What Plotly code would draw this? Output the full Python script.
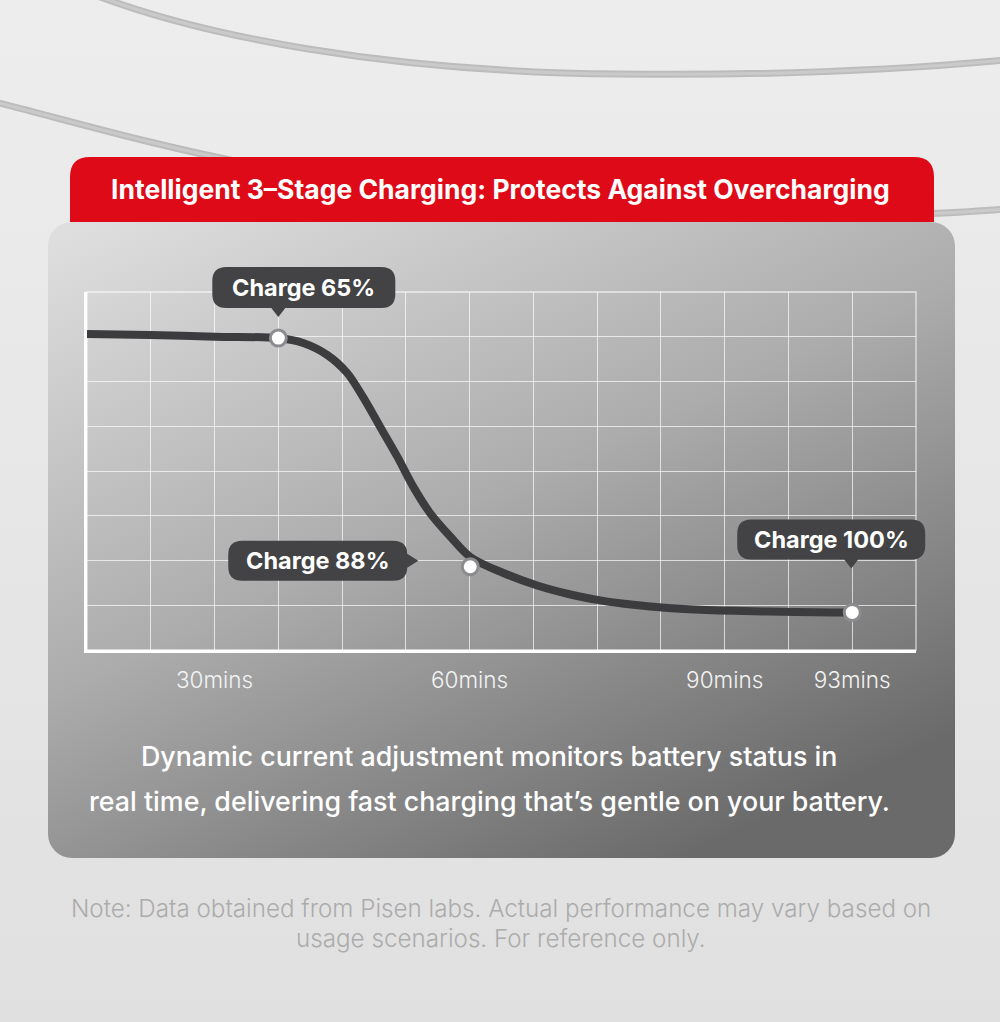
import base64
import plotly.graph_objects as go

W, H = 1000, 1022

# charge curve (13 columns x 8 rows)
curve_x = [0, 0.99, 2.01, 3.0, 3.39, 3.77, 4.08, 4.33, 4.6, 4.87, 5.12, 5.38,
           5.7, 6.01, 6.53, 7.06, 7.58, 8.05, 8.57, 9.11, 9.62, 10.68, 11.71, 12.0]
curve_y = [7.06, 7.04, 7.0, 6.97, 6.86, 6.59, 6.19, 5.65, 4.98, 4.31, 3.64, 3.06,
           2.53, 2.08, 1.72, 1.44, 1.24, 1.11, 1.01, 0.94, 0.9, 0.86, 0.84, 0.84]

# the three marked stages
point_x = [3.0, 6.01, 12.0]
point_y = [6.97, 1.86, 0.84]
point_labels = ["Charge 65%", "Charge 88%", "Charge 100%"]

# time axis
tick_pos = [2, 6, 10, 12]
tick_text = ["30mins", "60mins", "90mins", "93mins"]

title_text = "Intelligent 3–Stage Charging: Protects Against Overcharging"
body_lines = ["Dynamic current adjustment monitors battery status in",
              "real time, delivering fast charging that’s gentle on your battery."]
note_lines = ["Note: Data obtained from Pisen labs. Actual performance may vary based on",
              "usage scenarios. For reference only."]

FONT = "Inter, Roboto, sans-serif"
GRID = "rgba(255,255,255,0.68)"

# plot area in pixels
XL, XR, YT, YB = 87, 916, 292, 650
NX, NY = 13, 8


def to_px(x, y):
    return XL + x / NX * (XR - XL), YB - y / NY * (YB - YT)


def pp(px, py):
    return f"{px / W:.5f},{1 - py / H:.5f}"


def bubble_path(x0, y0, x1, y1, r, tip=None, side=None):
    # rounded box with a small pointer, pixel coords (y down) -> paper path
    p = [f"M {pp(x0 + r, y0)}", f"L {pp(x1 - r, y0)}",
         f"Q {pp(x1, y0)} {pp(x1, y0 + r)}"]
    if side == "right":
        tx, ty = tip
        p += [f"L {pp(x1, ty - 7)}", f"L {pp(tx, ty)}", f"L {pp(x1, ty + 7)}"]
    p += [f"L {pp(x1, y1 - r)}", f"Q {pp(x1, y1)} {pp(x1 - r, y1)}"]
    if side == "down":
        tx, ty = tip
        p += [f"L {pp(tx + 7, y1)}", f"L {pp(tx, ty)}", f"L {pp(tx - 7, y1)}"]
    p += [f"L {pp(x0 + r, y1)}", f"Q {pp(x0, y1)} {pp(x0, y1 - r)}",
          f"L {pp(x0, y0 + r)}", f"Q {pp(x0, y0)} {pp(x0 + r, y0)}", "Z"]
    return " ".join(p)


# callout boxes relative to their marker (pixels): box x0,x1,y0,y1, pointer tip, side
callout_style = [
    (-66, 117, -71, -30, (0, -21), "down"),
    (-242, -63, -26, 14, (-52, -6), "right"),
    (-115, 73, -93, -53, (-1, -44), "down"),
]

# background art: page + gradient panel
svg = f"""<svg xmlns='http://www.w3.org/2000/svg' width='{W}' height='{H}' viewBox='0 0 {W} {H}'>
<defs>
<linearGradient id='bg' x1='0' y1='0' x2='0' y2='1'>
<stop offset='0' stop-color='#ededed'/><stop offset='1' stop-color='#e0e0e0'/></linearGradient>
<linearGradient id='pn' x1='0.05' y1='0' x2='0.7' y2='1'>
<stop offset='0' stop-color='#dedede'/><stop offset='0.5' stop-color='#acacac'/>
<stop offset='1' stop-color='#6a6a6a'/></linearGradient>
</defs>
<rect width='{W}' height='{H}' fill='url(#bg)'/>
<rect x='48' y='222' width='907' height='636' rx='24' fill='url(#pn)'/>
</svg>"""
svg_src = "data:image/svg+xml;base64," + base64.b64encode(svg.encode()).decode()

fig = go.Figure()

fig.add_trace(go.Scatter(
    x=curve_x, y=curve_y, mode="lines",
    line=dict(color="#3c3c3f", width=8, shape="spline", smoothing=0.9),
    hoverinfo="skip", showlegend=False
))
fig.add_trace(go.Scatter(
    x=point_x, y=point_y, mode="markers",
    marker=dict(size=16, color="white", line=dict(color="#8c8c90", width=3)),
    text=point_labels, hoverinfo="text", showlegend=False
))

shapes = []
# cables in the background
cable_paths = [
    "M 95,-5 C 200,35 380,72 620,74 C 800,76 920,68 1005,60",
    "M -5,102 C 60,118 150,145 260,166",
    "M 900,215 C 940,213 970,212 1005,209",
]
for cp in cable_paths:
    pts = []
    for tok in cp.split():
        if "," in tok:
            a, b = tok.split(",")
            tok = pp(float(a), float(b))
        pts.append(tok)
    path = " ".join(pts)
    shapes.append(dict(type="path", path=path, xref="paper", yref="paper",
                       line=dict(color="#bcbcbc", width=7), layer="below"))
    shapes.append(dict(type="path", path=path, xref="paper", yref="paper",
                       line=dict(color="#cacaca", width=3), layer="below"))

# red banner with rounded top corners
bx0, bx1, by0, by1, br = 70, 934, 157, 222, 20
banner = (f"M {pp(bx0, by1)} L {pp(bx0, by0 + br)} Q {pp(bx0, by0)} {pp(bx0 + br, by0)} "
          f"L {pp(bx1 - br, by0)} Q {pp(bx1, by0)} {pp(bx1, by0 + br)} L {pp(bx1, by1)} Z")
shapes.append(dict(type="path", path=banner, xref="paper", yref="paper",
                   fillcolor="#df0a17", line=dict(width=0), layer="below"))

# top / right border of the grid
shapes.append(dict(type="rect", xref="x domain", yref="y domain", x0=0, x1=1, y0=0, y1=1,
                   line=dict(color=GRID, width=1.3), layer="below"))

annotations = []
for (x, y, label), (x0, x1, y0, y1, tip, side) in zip(
        zip(point_x, point_y, point_labels), callout_style):
    mx, my = to_px(x, y)
    shapes.append(dict(
        type="path", xref="paper", yref="paper",
        path=bubble_path(mx + x0, my + y0, mx + x1, my + y1, 14,
                         (mx + tip[0], my + tip[1]), side),
        fillcolor="#434345", line=dict(width=0), layer="above"))
    annotations.append(dict(
        x=(mx + (x0 + x1) / 2) / W, y=1 - (my + (y0 + y1) / 2) / H,
        xref="paper", yref="paper", text=f"<b>{label}</b>", showarrow=False,
        xanchor="center", yanchor="middle",
        font=dict(family=FONT, size=23.5, color="white")))

annotations.append(dict(
    x=0.5, y=1 - 189 / H, xref="paper", yref="paper", text=f"<b>{title_text}</b>",
    showarrow=False, xanchor="center", yanchor="middle",
    font=dict(family=FONT, size=26.5, color="white")))
for line, cy in zip(body_lines, [756, 801]):
    annotations.append(dict(
        x=0.489, y=1 - cy / H, xref="paper", yref="paper", text=line,
        showarrow=False, xanchor="center", yanchor="middle",
        font=dict(family=FONT, size=26.8, color="white", weight=500)))
for line, cy in zip(note_lines, [908, 938]):
    annotations.append(dict(
        x=0.501, y=1 - cy / H, xref="paper", yref="paper", text=line,
        showarrow=False, xanchor="center", yanchor="middle",
        font=dict(family=FONT, size=24.2, color="#acacac", weight=300)))

grid_vals = list(range(NX + 1))
grid_text = [tick_text[tick_pos.index(v)] if v in tick_pos else "" for v in grid_vals]

fig.update_layout(
    width=W, height=H,
    margin=dict(l=0, r=0, t=0, b=0),
    paper_bgcolor="#e6e6e6", plot_bgcolor="rgba(0,0,0,0)",
    showlegend=False,
    images=[dict(source=svg_src, xref="paper", yref="paper", x=0, y=1,
                 sizex=1, sizey=1, xanchor="left", yanchor="top",
                 sizing="stretch", layer="below")],
    xaxis=dict(domain=[XL / W, XR / W], range=[0, NX],
               tickmode="array", tickvals=grid_vals, ticktext=grid_text,
               showgrid=True, gridcolor=GRID, gridwidth=1.3,
               showline=True, linecolor="white", linewidth=2.5, zeroline=False,
               ticks="", ticklabelstandoff=8,
               tickfont=dict(family=FONT, size=22.5, color="#f3f3f3", weight=300),
               fixedrange=True),
    yaxis=dict(domain=[1 - YB / H, 1 - YT / H], range=[0, NY], dtick=1,
               showgrid=True, gridcolor=GRID, gridwidth=1.3,
               showline=True, linecolor="white", linewidth=2.5, zeroline=False,
               showticklabels=False, ticks="", fixedrange=True),
    shapes=shapes,
    annotations=annotations,
)

fig.write_html("out.html", config={"displayModeBar": False},
               post_script="document.body.style.margin='0';")
